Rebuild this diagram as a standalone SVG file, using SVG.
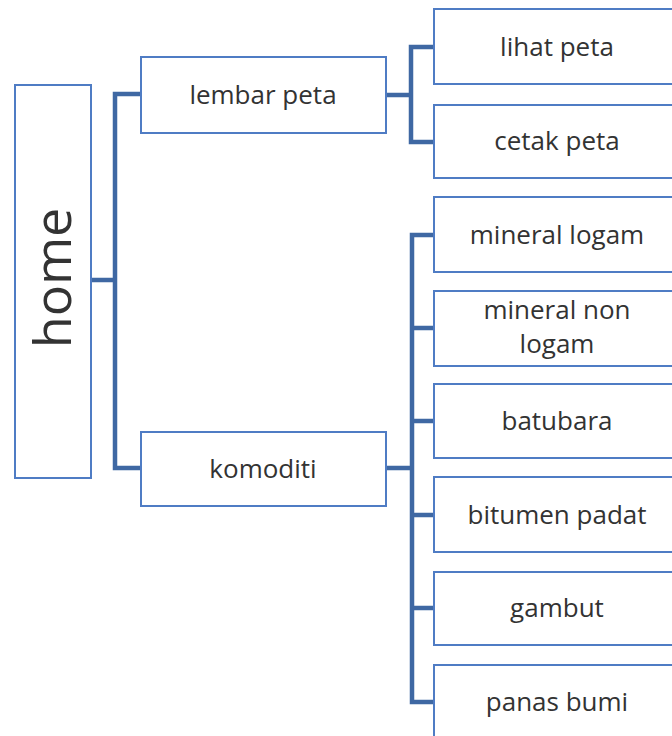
<svg xmlns="http://www.w3.org/2000/svg" width="672" height="736" viewBox="0 0 672 736">
<style>
.box{fill:#fff;stroke:#4f7cc4;stroke-width:2}
.t{font-family:"Open Sans","Noto Sans",sans-serif;font-size:26px;fill:#333;text-anchor:middle}
.c{fill:none;stroke:#3f68a3;stroke-width:4.5;stroke-linejoin:miter}
</style>
<rect width="672" height="736" fill="#fff"/>
<g id="connectors">
<path class="c" d="M91 280H115M140 94H115V468H140"/>
<path class="c" d="M386 95H411M434 47H411V142H434"/>
<path class="c" d="M386 468H412M434 235H412V702H434M412 328H434M412 421H434M412 515H434M412 608H434"/>
</g>
<g id="home"><rect class="box" x="15" y="85" width="76" height="393"/><text class="t" style="font-size:52px" transform="translate(71,278) rotate(-90)">home</text></g>
<g id="lembar-peta"><rect class="box" x="141" y="57" width="245" height="76"/><text class="t" x="263" y="104">lembar peta</text></g>
<g id="komoditi"><rect class="box" x="141" y="432" width="245" height="74"/><text class="t" x="263" y="478">komoditi</text></g>
<g id="lihat-peta"><rect class="box" x="434" y="9" width="250" height="75"/><text class="t" x="557" y="56">lihat peta</text></g>
<g id="cetak-peta"><rect class="box" x="434" y="105" width="250" height="73"/><text class="t" x="557" y="150">cetak peta</text></g>
<g id="mineral-logam"><rect class="box" x="434" y="197" width="250" height="75"/><text class="t" x="557" y="244">mineral logam</text></g>
<g id="mineral-non-logam"><rect class="box" x="434" y="291" width="250" height="75"/><text class="t" x="557" y="319">mineral non</text><text class="t" x="557" y="353">logam</text></g>
<g id="batubara"><rect class="box" x="434" y="384" width="250" height="74"/><text class="t" x="557" y="430">batubara</text></g>
<g id="bitumen-padat"><rect class="box" x="434" y="477" width="250" height="75"/><text class="t" x="557" y="524">bitumen padat</text></g>
<g id="gambut"><rect class="box" x="434" y="572" width="250" height="73"/><text class="t" x="557" y="617">gambut</text></g>
<g id="panas-bumi"><rect class="box" x="434" y="665" width="250" height="80"/><text class="t" x="557" y="711">panas bumi</text></g>
</svg>
